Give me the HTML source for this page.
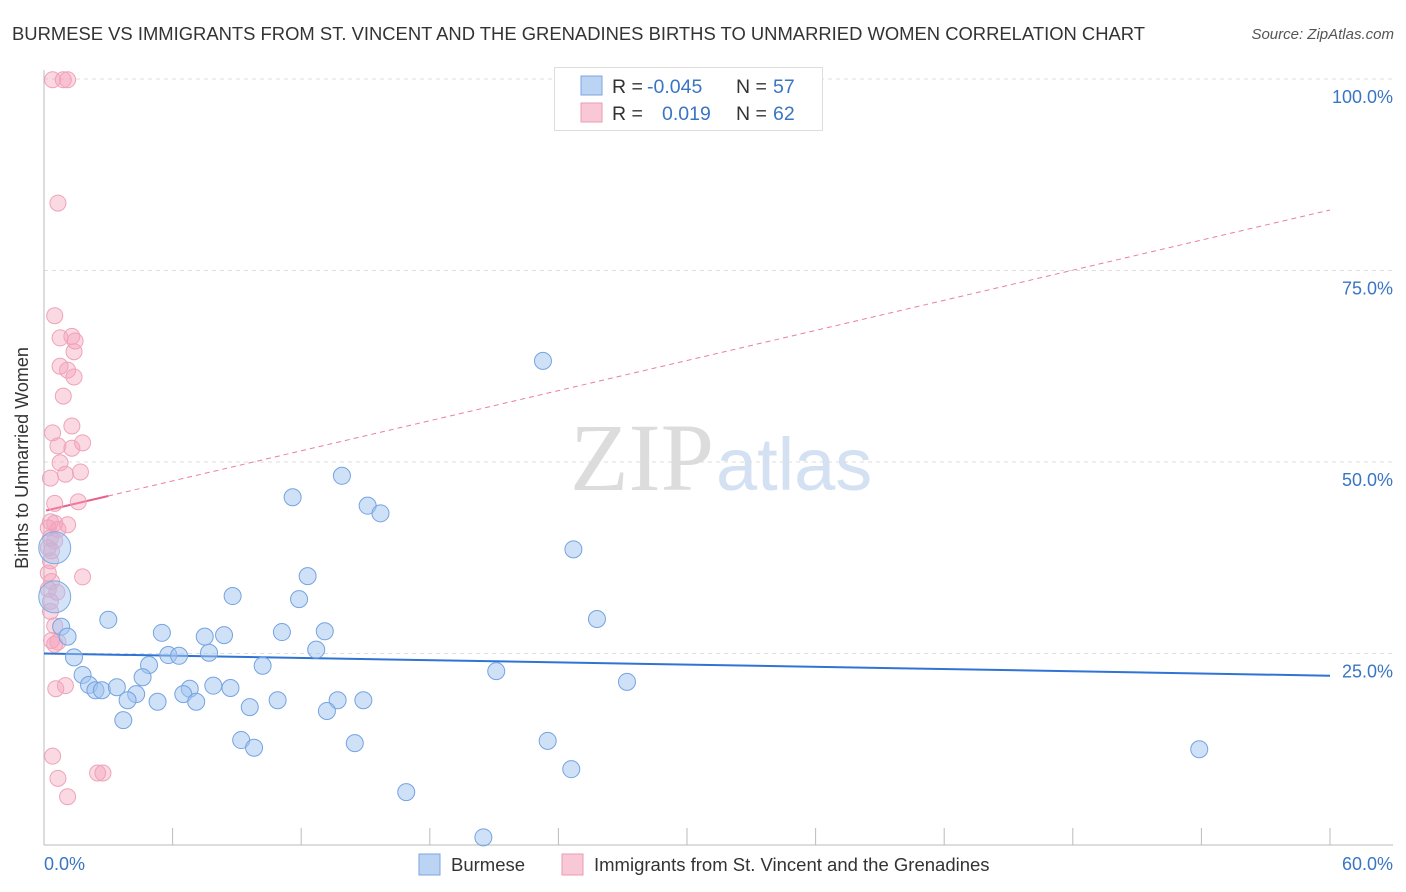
<!DOCTYPE html>
<html><head><meta charset="utf-8"><style>
body{margin:0;background:#fff;font-family:"Liberation Sans",sans-serif;}
svg{display:block}
</style></head><body>
<svg id="chart" width="1406" height="892" xmlns="http://www.w3.org/2000/svg">
<text x="12" y="40" font-size="18" fill="#333" textLength="1133" lengthAdjust="spacingAndGlyphs">BURMESE VS IMMIGRANTS FROM ST. VINCENT AND THE GRENADINES BIRTHS TO UNMARRIED WOMEN CORRELATION CHART</text>
<text x="1394" y="39" font-size="15" fill="#555" font-style="italic" text-anchor="end">Source: ZipAtlas.com</text>
<text x="714" y="490" font-size="96" fill="#dcdcdc" font-family="Liberation Serif,serif" text-anchor="end">ZIP</text>
<text x="716" y="490" font-size="74" fill="#d3e1f3">atlas</text>
<g id="grid"></g><g id="axes"></g><g id="trend"></g><g id="pts"></g>
<text x="28" y="458" font-size="18" fill="#333" text-anchor="middle" transform="rotate(-90 28 458)">Births to Unmarried Women</text>
<text x="44" y="870" font-size="18" fill="#3a75c4">0.0%</text>
<text x="1393" y="870" font-size="18" fill="#3a75c4" text-anchor="end">60.0%</text>
<g>
<rect x="419" y="854" width="21" height="21" fill="#bcd4f4" stroke="#7ba4e0"/>
<text x="451" y="871" font-size="18.5" fill="#333">Burmese</text>
<rect x="562" y="854" width="21" height="21" fill="#f9c8d6" stroke="#eb9bb3"/>
<text x="594" y="871" font-size="18.5" fill="#333">Immigrants from St. Vincent and the Grenadines</text>
</g>
<g>
<rect x="554.5" y="67.5" width="268" height="63" fill="#fff" stroke="#ddd"/>
<rect x="581" y="76" width="21" height="19" fill="#bcd4f4" stroke="#7ba4e0"/>
<rect x="581" y="103" width="21" height="19" fill="#f9c8d6" stroke="#eb9bb3"/>
<text x="612" y="93" font-size="19.5" fill="#333">R = </text><text x="647" y="93" font-size="19.5" fill="#3a75c4">-0.045</text>
<text x="736" y="93" font-size="19.5" fill="#333">N = </text><text x="773" y="93" font-size="19.5" fill="#3a75c4">57</text>
<text x="612" y="120" font-size="19.5" fill="#333">R = </text><text x="662" y="120" font-size="19.5" fill="#3a75c4">0.019</text>
<text x="736" y="120" font-size="19.5" fill="#333">N = </text><text x="773" y="120" font-size="19.5" fill="#3a75c4">62</text>
</g>
</svg>
<script>
const yTicks=[25,50,75,100];
const yTickLabels=["25.0%","50.0%","75.0%","100.0%"];
const blueX=[23.28,13.9,11.6,15.1,15.7,24.7,12.3,8.8,11.9,3.0,25.8,0.8,1.1,5.5,7.5,8.4,11.1,13.1,5.8,6.3,7.7,12.7,1.4,4.9,10.2,21.1,1.8,4.6,2.1,27.2,2.4,2.7,3.4,7.9,8.7,6.8,6.5,4.3,3.9,5.3,7.1,10.9,13.7,14.9,9.6,13.2,3.7,9.2,9.8,14.5,23.5,53.9,24.6,16.9,20.5];
const blueY=[63.2,48.2,45.4,44.3,43.3,38.6,35.1,32.5,32.1,29.4,29.5,28.5,27.2,27.7,27.2,27.4,27.8,27.9,24.8,24.7,25.1,25.5,24.5,23.5,23.4,22.7,22.2,21.9,20.9,21.3,20.2,20.2,20.6,20.8,20.5,20.4,19.7,19.7,18.9,18.7,18.7,18.9,18.9,18.9,18.0,17.5,16.3,13.7,12.7,13.3,13.6,12.5,9.9,6.9,1.0];
const blueBigX=[0.5,0.5];
const blueBigY=[38.8,32.4];
const pinkX=[0.4,0.9,1.1,0.65,0.5,0.75,1.3,1.45,1.4,0.75,1.1,1.4,0.9,0.4,1.3,0.65,1.3,1.8,0.75,1.0,1.7,0.3,0.5,1.6,0.3,0.5,0.2,0.65,1.1,0.3,0.5,0.2,0.35,0.3,0.2,0.35,0.2,0.3,0.3,0.5,0.35,0.65,1.8,0.6,0.5,1.0,0.55,0.4,0.65,2.5,2.75,1.1];
const pinkY=[99.9,99.9,99.9,83.8,69.1,66.2,66.4,65.8,64.4,62.5,62.0,61.1,58.6,53.8,54.7,52.1,51.8,52.5,49.9,48.4,48.7,47.9,44.6,44.8,42.2,42.0,41.4,41.2,41.8,40.1,39.7,38.8,38.4,37.1,35.5,34.4,33.4,31.8,30.5,28.6,26.7,26.5,35.0,33.0,26.2,20.8,20.4,11.6,8.7,9.4,9.4,6.3];
const blueTrend=[25.0,22.1];
const pinkTrend=[43.6,82.9];
const X=v=>44+v/60*1286, Y=v=>845-v/100*766;
const NS="http://www.w3.org/2000/svg";
function mk(p,t,a){const e=document.createElementNS(NS,t);for(const k in a)e.setAttribute(k,a[k]);document.getElementById(p).appendChild(e);return e;}
yTicks.forEach((t,i)=>{
 const g=mk('grid','line',{x1:44,x2:1393,y1:Y(t),y2:Y(t),stroke:'#ddd','stroke-dasharray':'4,4'});
 
 
 const l=mk('grid','text',{x:1393,y:Y(t)+24,'font-size':18,fill:'#3a75c4','text-anchor':'end'});
 l.textContent=yTickLabels[i];
 
 
});
const ax=mk('axes','line',{x1:44,x2:44,y1:70,y2:845,stroke:'#bbb'});


const bx=mk('axes','line',{x1:44,x2:1393,y1:845,y2:845,stroke:'#bbb'});


for(let i=1;i<=10;i++){const t=mk('axes','line',{x1:X(i*6),x2:X(i*6),y1:828,y2:845,stroke:'#bbb'});
 
 }
const bt=mk('trend','line',{x1:X(0),y1:Y(blueTrend[0]),x2:X(60),y2:Y(blueTrend[1]),stroke:'#2f74d4','stroke-width':2});


const pv=x=>pinkTrend[0]+(pinkTrend[1]-pinkTrend[0])*x/60;
const pd=mk('trend','line',{x1:X(3),y1:Y(pv(3)),x2:X(60),y2:Y(pv(60)),stroke:'#e8809f','stroke-width':1,'stroke-dasharray':'5,4'});


const ps=mk('trend','line',{x1:X(0.1),y1:Y(pv(0.1)),x2:X(3),y2:Y(pv(3)),stroke:'#e8608a','stroke-width':2});


pinkX.forEach((x,i)=>{const c=mk('pts','circle',{cx:X(x),cy:Y(pinkY[i]),r:8,fill:'rgba(244,160,186,0.4)',stroke:'#eea3b9','stroke-width':1});
 
 });
blueBigX.forEach((x,i)=>{const c=mk('pts','circle',{cx:X(x),cy:Y(blueBigY[i]),r:16,fill:'rgba(160,195,240,0.45)',stroke:'#7eaae4','stroke-width':1});
 
 });
blueX.forEach((x,i)=>{const c=mk('pts','circle',{cx:X(x),cy:Y(blueY[i]),r:8.5,fill:'rgba(160,195,240,0.5)',stroke:'#75a3e2','stroke-width':1});
 
 });
</script>
</body></html>
